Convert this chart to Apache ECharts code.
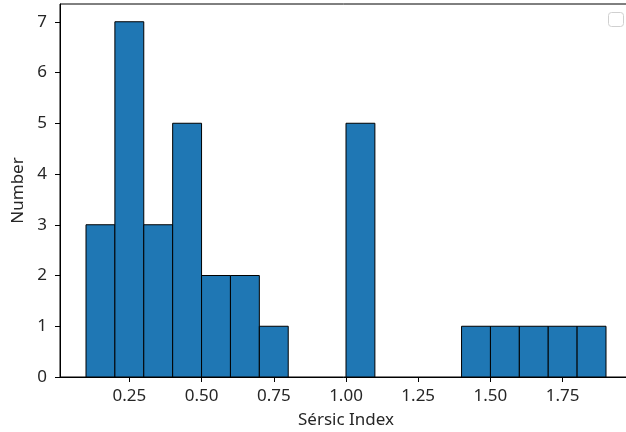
<!DOCTYPE html>
<html>
<head>
<meta charset="utf-8">
<script src="https://cdn.jsdelivr.net/npm/echarts@6/dist/echarts.min.js"></script>
<style>html,body{margin:0;padding:0;background:#fff}#c{width:626px;height:432px}</style>
</head>
<body>
<div id="c"></div>
<script>
const binStarts = [0.1,0.2,0.3,0.4,0.5,0.6,0.7,0.8,0.9,1.0,1.1,1.2,1.3,1.4,1.5,1.6,1.7,1.8];
const counts    = [3,7,3,5,2,2,1,0,0,5,0,0,0,1,1,1,1,1];
const binWidth = 0.1;
const xTicks = [0.25,0.5,0.75,1.0,1.25,1.5,1.75];
const yTicks = [0,1,2,3,4,5,6,7];

const chart = echarts.init(document.getElementById('c'), null, {renderer:'canvas'});
const font = 'Noto Sans';
const txt = '#262626';
chart.setOption({
  animation:false,
  grid:{left:60, top:4, width:572, height:373, show:true, borderColor:'#000', borderWidth:1, backgroundColor:'transparent', containLabel:false, outerBoundsMode:'none'},
  xAxis:{type:'value', min:0.01, max:1.99,
    name:'Sérsic Index', nameLocation:'middle', nameGap:35,
    nameTextStyle:{fontFamily:font, fontSize:17, color:txt},
    axisLine:{show:true, onZero:false, lineStyle:{color:'#000', width:1}},
    axisTick:{show:true, length:5, customValues:xTicks, lineStyle:{color:'#000'}},
    axisLabel:{customValues:xTicks, margin:11, fontFamily:font, fontSize:17, color:txt, formatter:v=>v.toFixed(2)},
    splitLine:{show:false}},
  yAxis:{type:'value', min:0, max:7.35,
    name:'Number', nameLocation:'middle', nameGap:33,
    nameTextStyle:{fontFamily:font, fontSize:17, color:txt},
    axisLine:{show:true, lineStyle:{color:'#000', width:1}},
    axisTick:{show:true, length:5, customValues:yTicks, lineStyle:{color:'#000'}},
    axisLabel:{customValues:yTicks, margin:13, fontFamily:font, fontSize:17, color:txt},
    splitLine:{show:false}},
  series:[{
    type:'custom',
    data: binStarts.map((s,i)=>[s, s+binWidth, counts[i]]),
    encode:{x:[0,1], y:2},
    renderItem:(params, api)=>{
      const h = api.value(2);
      if(!h) return null;
      const p0 = api.coord([api.value(0), 0]);
      const p1 = api.coord([api.value(1), h]);
      return {type:'rect', shape:{x:p0[0], y:p1[1], width:p1[0]-p0[0], height:p0[1]-p1[1]},
        style:{fill:'#1f77b4', stroke:'#000', lineWidth:1}};
    }
  }],
  graphic:[{type:'rect', shape:{x:608.5, y:12.5, width:15, height:14, r:3}, style:{fill:'#fff', stroke:'#d0d0d0', lineWidth:1}}]
});
</script>
</body>
</html>
